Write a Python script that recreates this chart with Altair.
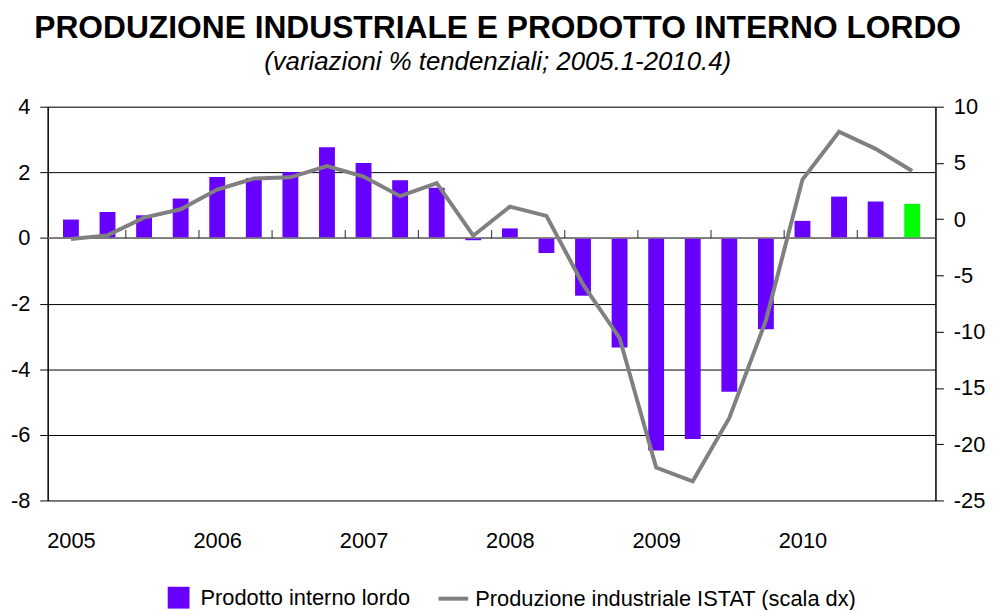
import altair as alt
import pandas as pd

# ---- data ----
years = [2005, 2006, 2007, 2008, 2009, 2010]
quarters = [f"{y}.{q}" for y in years for q in (1, 2, 3, 4)]
gdp = [0.56, 0.79, 0.69, 1.20, 1.86, 1.83, 2.01, 2.76,
       2.28, 1.76, 1.53, -0.07, 0.29, -0.46, -1.76, -3.34,
       -6.48, -6.13, -4.69, -2.78, 0.52, 1.26, 1.11, 1.04]
ip = [-1.76, -1.44, 0.14, 0.88, 2.64, 3.61, 3.72, 4.72,
      3.79, 2.05, 3.20, -1.47, 1.11, 0.29, -5.8, -10.56,
      -22.07, -23.3, -17.67, -9.01, 3.52, 7.77, 6.25, 4.28]
year_labels = [str(y) for y in years]
left_ticks = [-8, -6, -4, -2, 0, 2, 4]
right_ticks = [-25, -20, -15, -10, -5, 0, 5, 10]
year_start_idx = [0, 4, 8, 12, 16, 20]
pair_boundaries = [1.5, 3.5, 5.5, 7.5, 9.5, 11.5, 13.5, 15.5, 17.5, 19.5, 21.5]

S_GDP = "Prodotto interno lordo"
S_IP = "Produzione industriale ISTAT (scala dx)"
PURPLE = "#6600ff"
GREEN = "#00ff00"
GREY = "#808080"
FONT = "Liberation Sans, Arial, sans-serif"

df = pd.DataFrame({
    "idx": list(range(len(quarters))),
    "quarter": quarters,
    "gdp": gdp,
    "ip": ip,
    "s_gdp": S_GDP,
    "s_ip": S_IP,
})

W, H = 895, 397
xscale = alt.Scale(domain=[-0.5, len(quarters) - 0.5], nice=False, zero=False)
label_expr = "{" + ",".join(f"'{i}':'{y}'" for i, y in zip(year_start_idx, year_labels)) + "}[datum.value]"

common_legend = dict(orient="none", direction="horizontal", title=None,
                     labelFontSize=22, labelFont=FONT, labelColor="black",
                     labelLimit=0, padding=0)

yleft = alt.Scale(domain=[-8, 4], nice=False, zero=False)
yright = alt.Scale(domain=[-25, 10], nice=False, zero=False)

left_axis = alt.Axis(
    values=left_ticks, title=None, grid=True, gridColor="black", gridWidth=1,
    domainColor="black", domainWidth=1.5, tickColor="black", tickSize=8,
    labelFontSize=22, labelFont=FONT, labelPadding=10, labelColor="black",
    labelExpr="'' + datum.value")

base = alt.Chart(df)

bars = base.mark_bar(size=16).encode(
    x=alt.X("idx:Q", scale=xscale, axis=alt.Axis(
        values=year_start_idx, labelExpr=label_expr, title=None,
        domain=False, ticks=False, grid=False, labelFontSize=22, labelFont=FONT,
        labelPadding=30, labelColor="black")),
    y=alt.Y("gdp:Q", scale=yleft, axis=left_axis),
    fill=alt.condition(
        f"datum.idx === {len(quarters) - 1}",
        alt.value(GREEN),
        alt.Fill("s_gdp:N", scale=alt.Scale(domain=[S_GDP], range=[PURPLE]),
                 legend=alt.Legend(symbolType="square", symbolSize=484, labelOffset=10,
                                   legendX=120, legendY=483, **common_legend)),
    ),
    tooltip=["quarter", "gdp"],
)

zero = alt.Chart(pd.DataFrame({"z": [0]})).mark_rule(color=GREY, strokeWidth=1.5).encode(
    y=alt.Y("z:Q", scale=yleft, axis=left_axis)
)

ticks = alt.Chart(pd.DataFrame({"b": pair_boundaries, "z": [0] * len(pair_boundaries)})).mark_tick(
    orient="vertical", size=8, thickness=1.2, color="black", yOffset=-4
).encode(
    x=alt.X("b:Q", scale=xscale),
    y=alt.Y("z:Q", scale=yleft, axis=left_axis),
)

left_layer = alt.layer(bars, zero, ticks)

line = base.mark_line(strokeWidth=4).encode(
    x=alt.X("idx:Q", scale=xscale),
    y=alt.Y("ip:Q", scale=yright, axis=alt.Axis(
        orient="right", values=right_ticks, title=None, grid=False,
        domainColor="black", domainWidth=1.5, tickColor="black", tickSize=8,
        labelFontSize=22, labelFont=FONT, labelPadding=10, labelColor="black",
        labelExpr="'' + datum.value")),
    stroke=alt.Stroke("s_ip:N", scale=alt.Scale(domain=[S_IP], range=[GREY]),
                      legend=alt.Legend(symbolType="stroke", symbolSize=900,
                                        symbolStrokeWidth=4, labelOffset=5,
                                        legendX=392, legendY=479, **common_legend)),
    tooltip=["quarter", "ip"],
)

chart = alt.layer(left_layer, line).resolve_scale(y="independent").properties(
    width=W, height=H,
    padding={"left": 2, "top": 2, "right": 5, "bottom": 5},
    title=alt.TitleParams(
        text="PRODUZIONE INDUSTRIALE E PRODOTTO INTERNO LORDO",
        subtitle="(variazioni % tendenziali; 2005.1-2010.4)",
        fontSize=32, font=FONT, fontWeight="bold", color="black",
        subtitleFontSize=26, subtitleFont=FONT, subtitleFontStyle="italic",
        subtitleColor="black", subtitlePadding=4,
        anchor="middle", frame="bounds", offset=20,
    ),
).configure_view(stroke=None).configure(background="white")

chart.save("out.html", embed_options={"renderer": "svg", "actions": False})
